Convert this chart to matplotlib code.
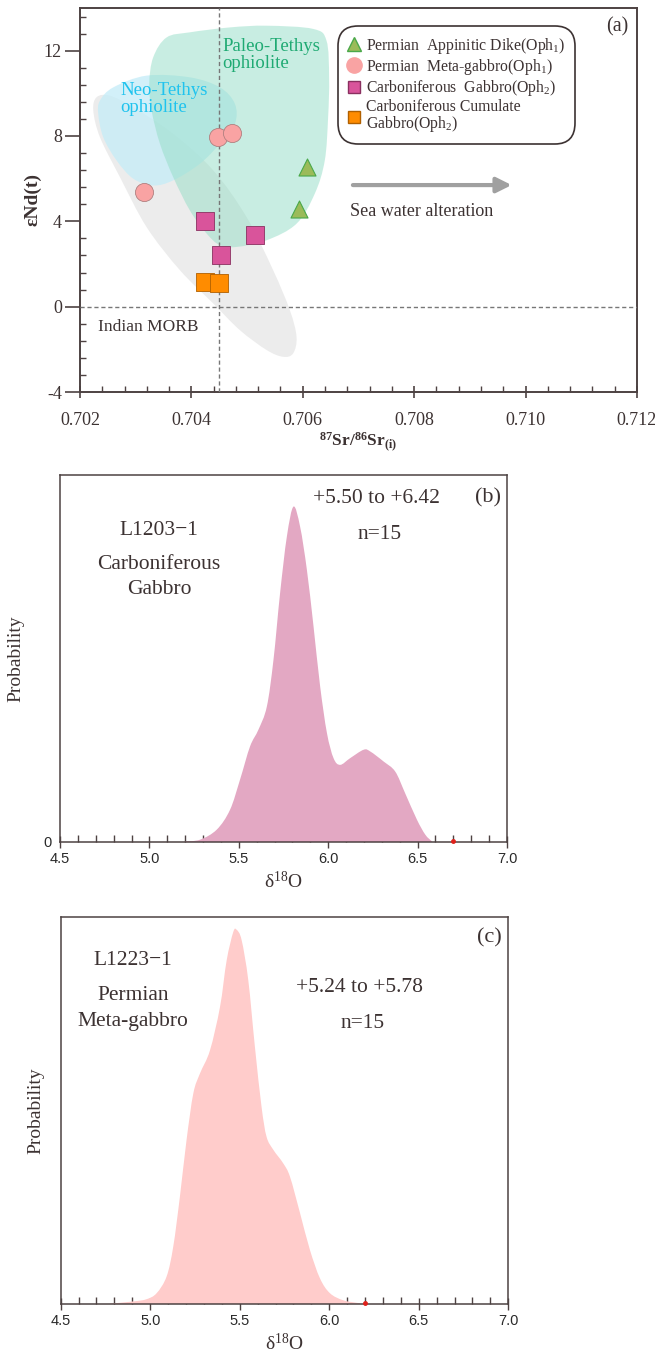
import matplotlib
matplotlib.use("Agg")
import matplotlib.pyplot as plt
from matplotlib.lines import Line2D
from matplotlib.path import Path
from matplotlib.patches import PathPatch
from matplotlib.ticker import MultipleLocator

plt.rcParams['font.family'] = ['Liberation Serif', 'DejaVu Serif']
plt.rcParams['mathtext.fontset'] = 'custom'
plt.rcParams['mathtext.rm'] = 'Liberation Serif'
plt.rcParams['mathtext.it'] = 'Liberation Serif:italic'
plt.rcParams['mathtext.bf'] = 'Liberation Serif:bold'
plt.rcParams['axes.unicode_minus'] = False

TXT = '#3c3232'
SPINE = '#4d4242'

# ---- panel (a) data: 87Sr/86Sr(i) vs eNd(t)
dike_sr = [0.70607, 0.70593]
dike_nd = [6.55, 4.6]
meta_sr = [0.70315, 0.70448, 0.70473]
meta_nd = [5.37, 7.94, 8.13]
gabbro_sr = [0.70424, 0.70514, 0.70453]
gabbro_nd = [4.0, 3.35, 2.42]
cumul_sr = [0.70424, 0.70450]
cumul_nd = [1.16, 1.10]

# field outlines
paleo_sr = [0.703315, 0.703555, 0.703973, 0.704691, 0.705349, 0.706186, 0.706426,
            0.706473, 0.706455, 0.706395, 0.706216, 0.705888, 0.705349, 0.704811,
            0.704512, 0.704273, 0.703973, 0.703674, 0.703435, 0.703286, 0.703243]
paleo_nd = [11.69, 12.62, 12.86, 13.09, 13.17, 13.02, 12.47, 10.75, 8.88, 6.85, 5.30,
            3.89, 3.11, 2.80, 2.88, 3.43, 4.51, 6.07, 7.64, 9.19, 10.44]
neo_sr = [0.702359, 0.702598, 0.703196, 0.703973, 0.704512, 0.704781, 0.704781,
          0.704512, 0.704153, 0.703674, 0.703315, 0.702956, 0.702658, 0.702418, 0.702328]
neo_nd = [9.66, 10.28, 10.83, 10.75, 10.28, 9.51, 8.57, 7.64, 6.70, 5.92, 5.68, 6.0,
          6.85, 7.94, 9.04]
morb_sr = [0.702299, 0.702538, 0.702956, 0.703674, 0.704392, 0.704991, 0.705468,
           0.705767, 0.705888, 0.705827, 0.705647, 0.705349, 0.704870, 0.704392,
           0.703794, 0.703196, 0.702718, 0.702359, 0.702239]
morb_nd = [9.82, 9.89, 9.35, 8.10, 6.39, 4.20, 1.71, -0.16, -1.41, -2.19, -2.35, -2.03,
           -1.10, 0.15, 1.71, 3.73, 6.07, 7.94, 9.19]

# ---- panel (b) / (c): traced probability density curves (peak = 1)
b_d18o = [5.20, 5.284, 5.377, 5.451, 5.507, 5.563, 5.61, 5.657, 5.694, 5.731, 5.769,
          5.806, 5.843, 5.881, 5.918, 5.955, 5.993, 6.03, 6.067, 6.123, 6.198, 6.235,
          6.31, 6.375, 6.43, 6.496, 6.543, 6.58]
b_prob = [0.002, 0.007, 0.037, 0.096, 0.186, 0.285, 0.335, 0.404, 0.543, 0.742, 0.911,
          1.0, 0.94, 0.811, 0.643, 0.464, 0.325, 0.25, 0.23, 0.25, 0.275, 0.27, 0.24,
          0.21, 0.146, 0.067, 0.022, 0.002]
c_d18o = [4.776, 4.906, 4.98, 5.036, 5.092, 5.129, 5.166, 5.203, 5.241, 5.278, 5.334,
          5.39, 5.427, 5.464, 5.483, 5.511, 5.548, 5.585, 5.622, 5.65, 5.688, 5.743,
          5.781, 5.837, 5.892, 5.948, 6.004, 6.079, 6.172]
c_prob = [0.001, 0.007, 0.013, 0.029, 0.074, 0.154, 0.287, 0.438, 0.563, 0.616, 0.678,
          0.794, 0.918, 0.994, 1.0, 0.972, 0.865, 0.687, 0.527, 0.447, 0.412, 0.376,
          0.34, 0.243, 0.145, 0.069, 0.029, 0.01, 0.002]


def smooth_path(xs, ys, closed=True):
    # Catmull-Rom through the traced points, drawn as cubic Bezier segments
    pts = list(zip(xs, ys))
    n = len(pts)
    if closed:
        get = lambda i: pts[i % n]
        segs = range(n)
    else:
        get = lambda i: pts[min(max(i, 0), n - 1)]
        segs = range(n - 1)
    verts = [pts[0]]
    codes = [Path.MOVETO]
    for i in segs:
        p0, p1, p2, p3 = get(i - 1), get(i), get(i + 1), get(i + 2)
        c1 = (p1[0] + (p2[0] - p0[0]) / 6, p1[1] + (p2[1] - p0[1]) / 6)
        c2 = (p2[0] - (p3[0] - p1[0]) / 6, p2[1] - (p3[1] - p1[1]) / 6)
        verts += [c1, c2, p2]
        codes += [Path.CURVE4] * 3
    if not closed:
        verts += [(pts[-1][0], 0), (pts[0][0], 0)]
        codes += [Path.LINETO, Path.LINETO]
    verts.append(pts[0])
    codes.append(Path.CLOSEPOLY)
    return Path(verts, codes)


fig = plt.figure(figsize=(6.55, 13.55), dpi=100)

# ================= (a)
ax = fig.add_axes([0.1221, 0.7107, 0.8504, 0.2834])
ax.add_patch(PathPatch(smooth_path(morb_sr, morb_nd), fc='#e9e9e9', lw=0, alpha=0.85, zorder=1))
ax.add_patch(PathPatch(smooth_path(neo_sr, neo_nd), fc='#c4ecf8', lw=0, alpha=0.75, zorder=2))
ax.add_patch(PathPatch(smooth_path(paleo_sr, paleo_nd), fc='#93ddc6', lw=0, alpha=0.5, zorder=3))
ax.axvline(0.7045, color='#777777', ls=(0, (3, 2)), lw=1.0, zorder=4)
ax.axhline(0, color='#777777', ls=(0, (3, 2)), lw=1.0, zorder=4)

ax.scatter(dike_sr, dike_nd, marker='^', s=150, c='#9bbb59', edgecolors='#4aa84a', lw=0.8, zorder=6)
ax.scatter(meta_sr, meta_nd, marker='o', s=170, c='#f9a3a3', edgecolors='#b08080', lw=0.6, zorder=6)
ax.scatter(gabbro_sr, gabbro_nd, marker='s', s=150, c='#d9549b', edgecolors='#8a3060', lw=0.6, zorder=6)
ax.scatter(cumul_sr, cumul_nd, marker='s', s=150, c='#ff8c00', edgecolors='#b06000', lw=0.6, zorder=6)

ax.text(0.70455, 12.6, 'Paleo-Tethys\nophiolite', color='#1faa73', fontsize=13.5,
        va='top', ha='left', linespacing=1.0, zorder=7)
ax.text(0.70272, 10.55, 'Neo-Tethys\nophiolite', color='#1fc3ee', fontsize=13.5,
        va='top', ha='left', linespacing=1.0, zorder=7)
ax.text(0.70232, -0.95, 'Indian MORB', color=TXT, fontsize=12.5, va='center', zorder=7)
ax.annotate('', xy=(0.7098, 5.7), xytext=(0.70685, 5.7),
            arrowprops=dict(arrowstyle='-|>,head_length=0.9,head_width=0.45',
                            color='#a0a0a0', lw=3), zorder=7)
ax.text(0.70685, 4.45, 'Sea water alteration', color=TXT, fontsize=13, va='center')
ax.text(0.964, 0.95, '(a)', transform=ax.transAxes, fontsize=14.5, color=TXT,
        ha='center', va='center')

handles = [
    Line2D([], [], ls='', marker='^', ms=10, mfc='#9bbb59', mec='#4aa84a'),
    Line2D([], [], ls='', marker='o', ms=11, mfc='#f9a3a3', mec='#f9a3a3'),
    Line2D([], [], ls='', marker='s', ms=9, mfc='#d9549b', mec='#8a3060'),
    Line2D([], [], ls='', marker='s', ms=9, mfc='#ff8c00', mec='#b06000'),
]
labels = ['Permian  Appinitic Dike(Oph$_\\mathregular{1}$)',
          'Permian  Meta-gabbro(Oph$_\\mathregular{1}$)',
          'Carboniferous  Gabbro(Oph$_\\mathregular{2}$)',
          'Carboniferous Cumulate\nGabbro(Oph$_\\mathregular{2}$)']
leg = ax.legend(handles, labels, loc='upper left', bbox_to_anchor=(0.468, 0.945),
                fontsize=11.3, frameon=True, handlelength=0.9, handletextpad=0.3,
                labelspacing=0.08, borderpad=0.42, borderaxespad=0)
for t in leg.get_texts():
    t.set_color(TXT)
    t.set_linespacing(0.88)
fr = leg.get_frame()
fr.set_boxstyle('round,pad=0.2,rounding_size=1.3')
fr.set_edgecolor('#3c3232')
fr.set_linewidth(1.2)
fr.set_facecolor('white')
fr.set_alpha(1)

ax.set_xlim(0.702, 0.712)
ax.set_ylim(-4, 14)
ax.xaxis.set_minor_locator(MultipleLocator(0.0004))
ax.yaxis.set_major_locator(MultipleLocator(4))
ax.yaxis.set_minor_locator(MultipleLocator(0.8))
ax.set_xticks([0.702, 0.704, 0.706, 0.708, 0.710, 0.712])
ax.set_xticklabels(['0.702', '0.704', '0.706', '0.708', '0.710', '0.712'])
ax.tick_params(axis='x', which='major', direction='inout', length=9, width=1.2,
               colors=SPINE, labelcolor=TXT, labelsize=13, pad=10)
ax.tick_params(axis='y', which='major', direction='out', length=11, width=1.2,
               colors=SPINE, labelcolor=TXT, labelsize=13, pad=2)
ax.tick_params(which='minor', direction='in', length=4, width=1.0, colors=SPINE)
for s in ax.spines.values():
    s.set_color(SPINE)
    s.set_linewidth(1.4)
ax.set_xlabel(r'$\mathbf{^{87}Sr/^{86}Sr_{(i)}}$', fontsize=12.5, color=TXT, labelpad=1)
ax.set_ylabel('εNd(t)', fontsize=14, fontweight='bold', color=TXT, labelpad=2)


def density_panel(rect, xs, ys, fill, top, zero_label, red_x):
    a = fig.add_axes(rect)
    a.add_patch(PathPatch(smooth_path(xs, ys, closed=False), fc=fill, lw=0, zorder=2))
    a.plot([red_x], [0.004], marker='o', ms=2.5, color='#e0201a', zorder=5, clip_on=False)
    a.set_xlim(4.5, 7.0)
    a.set_ylim(0, top)
    a.xaxis.set_minor_locator(MultipleLocator(0.1))
    a.set_xticks([4.5, 5.0, 5.5, 6.0, 6.5, 7.0])
    a.set_xticklabels(['4.5', '5.0', '5.5', '6.0', '6.5', '7.0'],
                      fontfamily='Liberation Sans')
    a.tick_params(axis='x', which='major', direction='inout', length=9, width=1.0,
                  colors=SPINE, labelcolor='#2a2a2a', labelsize=10.5, pad=3)
    a.tick_params(axis='x', which='minor', direction='in', length=5, width=1.0,
                  colors=SPINE)
    if zero_label:
        a.set_yticks([0])
        a.set_yticklabels(['0'], fontfamily='Liberation Sans')
        a.tick_params(axis='y', length=0, labelsize=10.5, labelcolor='#2a2a2a', pad=6)
    else:
        a.set_yticks([])
    for s in a.spines.values():
        s.set_color(SPINE)
        s.set_linewidth(1.1)
    a.set_xlabel('δ$^{\\mathregular{18}}$O', fontsize=14, color=TXT, labelpad=3)
    a.set_ylabel('Probability', fontsize=14, color=TXT, labelpad=14 if zero_label else 12)
    return a


# ================= (b)
axb = density_panel([0.0916, 0.3786, 0.6824, 0.2708], b_d18o, b_prob,
                    '#e3a8c3', 1.094, True, 6.7)
axb.text(0.222, 0.85, 'L1203−1', transform=axb.transAxes, fontsize=15.5, color=TXT,
         ha='center', va='center')
axb.text(0.222, 0.757, 'Carboniferous', transform=axb.transAxes, fontsize=15.5,
         color=TXT, ha='center', va='center')
axb.text(0.222, 0.687, 'Gabbro', transform=axb.transAxes, fontsize=15.5, color=TXT,
         ha='center', va='center')
axb.text(0.707, 0.937, '+5.50 to +6.42', transform=axb.transAxes, fontsize=15.5,
         color=TXT, ha='center', va='center')
axb.text(0.716, 0.837, 'n=15', transform=axb.transAxes, fontsize=15.5, color=TXT,
         ha='center', va='center')
axb.text(0.958, 0.937, '(b)', transform=axb.transAxes, fontsize=16, color=TXT,
         ha='center', va='center')

# ================= (c)
axc = density_panel([0.0926, 0.0376, 0.6834, 0.2856], c_d18o, c_prob,
                    '#ffcccb', 1.034, False, 6.2)
axc.text(0.162, 0.889, 'L1223−1', transform=axc.transAxes, fontsize=15.5, color=TXT,
         ha='center', va='center')
axc.text(0.162, 0.798, 'Permian', transform=axc.transAxes, fontsize=15.5, color=TXT,
         ha='center', va='center')
axc.text(0.162, 0.731, 'Meta-gabbro', transform=axc.transAxes, fontsize=15.5,
         color=TXT, ha='center', va='center')
axc.text(0.667, 0.817, '+5.24 to +5.78', transform=axc.transAxes, fontsize=15.5,
         color=TXT, ha='center', va='center')
axc.text(0.675, 0.726, 'n=15', transform=axc.transAxes, fontsize=15.5, color=TXT,
         ha='center', va='center')
axc.text(0.957, 0.946, '(c)', transform=axc.transAxes, fontsize=16, color=TXT,
         ha='center', va='center')

fig.savefig('out.png', dpi=100)
